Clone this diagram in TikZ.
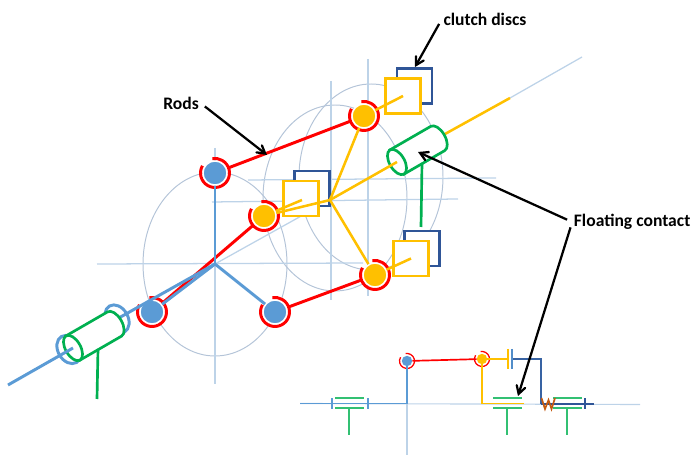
\documentclass[tikz,border=0pt]{standalone}
\usepackage{fontspec}
\setmainfont{Carlito}
\usetikzlibrary{positioning,arrows}

\definecolor{rodred}{HTML}{FF0000}
\definecolor{axblue}{HTML}{5B9BD5}
\definecolor{axyellow}{HTML}{FFC000}
\definecolor{cylgreen}{HTML}{00B050}
\definecolor{discblue}{HTML}{2F5597}
\definecolor{gridblue}{HTML}{BDD3E8}
\definecolor{ovalgrey}{HTML}{B4C4D8}
\definecolor{springorange}{HTML}{C55A11}

\tikzset{
	gridline/.style={gridblue,line width=0.9pt},
	oval/.style={ovalgrey,line width=0.7pt},
	joint/.style={circle,draw=white,line width=1pt,minimum size=0.6cm,inner sep=0pt},
	smalljoint/.style={circle,minimum size=0.26cm,inner sep=0pt},
	ring/.style={rodred,line width=2.1pt},
	smallring/.style={rodred,line width=0.9pt},
	rod/.style={rodred,line width=2.1pt,shorten <=1pt,shorten >=1pt},
	blueline/.style={axblue,line width=2.1pt},
	yellowline/.style={axyellow,line width=1.8pt},
	greenline/.style={cylgreen,line width=1.9pt},
	disc/.style={draw,fill=white,line width=1.9pt,minimum size=0.88cm,inner sep=0pt},
	caption/.style={font=\bfseries\fontsize{12.5}{14}\selectfont,inner sep=1pt},
	pointer/.style={black,line width=1.6pt,->,>=angle 60,shorten <=4pt},
}

\begin{document}
\begin{tikzpicture}[x=0.025cm,y=0.025cm]

\useasboundingbox (0,0) rectangle (691,459);

% construction lines
\draw[oval] (215,195) ellipse[x radius=72,y radius=92];
\draw[oval] (335,261) ellipse[x radius=72,y radius=93];
\draw[oval] (371,282) ellipse[x radius=72,y radius=93];
\draw[gridline] (215,311)--(215,75);
\draw[gridline] (331,378)--(331,159);
\draw[gridline] (368,400)--(368,163);
\draw[gridline] (97,195)--(363,196);
\draw[gridline] (212,257)--(458,260);
\draw[gridline] (248,279)--(496,281);
\draw[gridline] (215,195)--(330,259);
\draw[gridline] (510,361)--(582,402);

% hubs and free ends
\coordinate(bluehub) at (215,195);
\coordinate(yellowhub) at (330,259);

% clutch discs
\node[disc,draw=discblue](d1) at (414.5,373) {};
\node[disc,draw=discblue](d2) at (312,270.5) {};
\node[disc,draw=discblue](d3) at (422,210.5) {};
\node[disc,draw=axyellow](s1) at (403,363) {};
\node[disc,draw=axyellow](s2) at (301,260.5) {};
\node[disc,draw=axyellow](s3) at (411,200.5) {};

% joints
\node[joint,fill=axblue](b1) at (215,286) {};
\node[joint,fill=axblue](b2) at (152,147) {};
\node[joint,fill=axblue](b3) at (275,147) {};
\node[joint,fill=axyellow](y1) at (364,343) {};
\node[joint,fill=axyellow](y2) at (264,243) {};
\node[joint,fill=axyellow](y3) at (375,184) {};

\foreach \x in {b1,b2,b3,y1,y2,y3}{
	\draw[ring](\x) ++(150:14.5) arc[start angle=150,end angle=460,radius=14.5];
}

% rods
\foreach \x/\y in {b1/y1,b2/y2,b3/y3}{
	\draw[rod](\x)--(\y);
}

% spokes
\foreach \x in {y1,y2,y3}{
	\draw[yellowline](yellowhub)--(\x);
}
\foreach \x/\y in {y1/s1,y3/s3}{
	\draw[yellowline](\x)--(\y.center);
}
\coordinate(s2end) at (302,259);
\draw[yellowline](y2)--(s2end);
\foreach \x in {b1,b2,b3}{
	\draw[blueline](bluehub)--(\x);
}

% upper floating contact
\coordinate(c1near) at (397,297);
\coordinate(c1far) at (445,325);
\coordinate(yellowend) at (510,361);
\coordinate(stem1top) at (422,296);
\coordinate(stem1low) at (421,232);
\draw[yellowline](c1far)--(yellowend);
\draw[greenline,fill=white,shift={(397,297)},rotate=30] (0,14)--(47,14) arc[start angle=90,end angle=-90,x radius=7.5,y radius=14]--(0,-14)--cycle;
\draw[greenline,fill=white,shift={(397,297)},rotate=30] (0,0) ellipse[x radius=7.5,y radius=14];
\draw[yellowline](yellowhub)--(c1near);
\draw[greenline](stem1top)--(stem1low);

% lower floating contact
\coordinate(c2near) at (73,111);
\coordinate(c2far) at (117,140);
\coordinate(blueend) at (8,74);
\coordinate(stem2top) at (98,110);
\coordinate(stem2low) at (97,60);
\draw[blueline,shift={(69,109.5)},rotate=30] (0,0) ellipse[x radius=11,y radius=15];
\draw[blueline,shift={(117,140)},rotate=30] (0,0) ellipse[x radius=11,y radius=15];
\draw[blueline](bluehub)--(c2far);
\draw[greenline,fill=white,shift={(73,111)},rotate=30] (0,14)--(48,14) arc[start angle=90,end angle=-90,x radius=7.5,y radius=14]--(0,-14)--cycle;
\draw[greenline,fill=white,shift={(73,111)},rotate=30] (0,0) ellipse[x radius=7.5,y radius=14];
\draw[blueline](blueend)--(c2near);
\draw[greenline](stem2top)--(stem2low);

% schematic
\coordinate(axleft) at (300,55.5);
\coordinate(axright) at (640,54.5);
\coordinate(axdown) at (407,4);
\coordinate(axup) at (407,55);
\draw[gridblue,line width=0.8pt](axleft)--(axright);
\draw[gridblue,line width=0.8pt](axup)--(axdown);

\node[smalljoint,fill=axblue](sb) at (407,98) {};
\node[smalljoint,fill=axyellow](sy) at (482,100) {};
\foreach \x in {sb,sy}{
	\draw[smallring](\x) ++(150:7.5) arc[start angle=150,end angle=460,radius=7.5];
}
\draw[rodred,line width=1.2pt](sb)--(sy);
\coordinate(sbleft) at (300,55.5);
\coordinate(syplate) at (508,100);
\coordinate(syend) at (524,55.5);
\coordinate(sbplate) at (512,100);
\coordinate(sbdrop) at (541,55);
\coordinate(sbend) at (594,55);
\draw[axblue,line width=1.2pt](sbleft)-|(sb);
\draw[axyellow,line width=1.2pt](sy)--(syplate);
\draw[axyellow,line width=1.2pt](sy)|-(syend);
\draw[discblue!80!axblue,line width=1.2pt](sbplate)-|(sbdrop);
\draw[discblue,line width=1.2pt](sbdrop)--(sbend);
\draw[axyellow,line width=1.4pt](508,110)--(508,90);
\draw[axblue!80!discblue,line width=1.4pt](512,110)--(512,90);

\foreach \x in {332,368}{
	\draw[axblue,line width=0.9pt](\x,50)--(\x,61);
}
\draw[discblue,line width=0.9pt](585,50)--(585,61);

\foreach \x/\y in {335/349,493/507,553/567}{
	\draw[cylgreen!80,line width=1.2pt](\x,61)--(\x+29,61);
	\draw[cylgreen!80,line width=1.2pt](\x,51)--(\x+29,51);
	\draw[cylgreen!80,line width=1.2pt](\y,51)--(\y,24);
}
\draw[springorange,line width=1.2pt](541.5,61)--(545,50)--(548.5,59)--(551.5,50)--(555,61);

% labels
\node[caption](rods) at (181,356) {Rods};
\node[caption](clutch) at (485,440) {clutch discs};
\node[caption,anchor=east](contact) at (692,237) {Floating contact};

\coordinate(rodtip) at (267,304);
\coordinate(cliptip) at (415,392);
\coordinate(c1tip) at (418,307);
\coordinate(c3tip) at (518,63);
\draw[pointer](rods.east)--(rodtip);
\draw[pointer](clutch.west)--(cliptip);
\draw[pointer](contact.west)--(c1tip);
\draw[pointer](contact.west)--(c3tip);

\end{tikzpicture}
\end{document}
